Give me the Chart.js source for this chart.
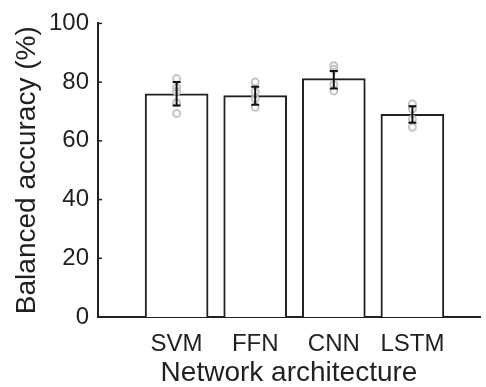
<!DOCTYPE html>
<html>
<head>
<meta charset="utf-8">
<script src="https://cdn.jsdelivr.net/npm/chart.js@4.4.1/dist/chart.umd.min.js"></script>
<style>
  html, body { margin: 0; padding: 0; background: #fff; }
  #wrap { width: 486px; height: 387px; }
</style>
</head>
<body>
<div id="wrap"><canvas id="chart" width="486" height="387"></canvas></div>
<script>
// --- data ---
const categories = ['SVM', 'FFN', 'CNN', 'LSTM'];
const meanAcc = [76.0, 75.4, 81.2, 69.0];
const errLow = [72.0, 72.3, 77.8, 66.2];
const errHigh = [80.0, 78.4, 83.8, 71.8];
const foldsSVM = [81.2, 78.2, 76.8, 73.0, 69.3];
const foldsFFN = [80.0, 76.8, 74.3, 71.4];
const foldsCNN = [85.6, 84.4, 79.3, 77.0];
const foldsLSTM = [72.6, 70.8, 67.4, 64.6];
const yTicks = [0, 20, 40, 60, 80, 100];

const ink = '#231f20';
const font = 'Liberation Sans, Arial, Helvetica, sans-serif';

const foldPoints = [];
[foldsSVM, foldsFFN, foldsCNN, foldsLSTM].forEach((arr, i) => {
    arr.forEach(v => foldPoints.push({ x: i + 1, y: v }));
});

// error bars + inward y ticks, drawn through the chart's scales
const extras = {
    id: 'extras',
    afterDatasetsDraw(chart) {
        const { ctx, scales: { x, y } } = chart;
        ctx.save();
        ctx.strokeStyle = '#111';
        ctx.lineWidth = 2;
        categories.forEach((c, i) => {
            const px = x.getPixelForValue(i + 1);
            const lo = y.getPixelForValue(errLow[i]);
            const hi = y.getPixelForValue(errHigh[i]);
            ctx.beginPath();
            ctx.moveTo(px, lo); ctx.lineTo(px, hi);
            ctx.moveTo(px - 4, lo); ctx.lineTo(px + 4, lo);
            ctx.moveTo(px - 4, hi); ctx.lineTo(px + 4, hi);
            ctx.stroke();
        });
        ctx.strokeStyle = ink;
        ctx.lineWidth = 1.5;
        yTicks.forEach(t => {
            const py = y.getPixelForValue(t);
            ctx.beginPath();
            ctx.moveTo(x.left, py); ctx.lineTo(x.left + 4, py);
            ctx.stroke();
        });
        ctx.restore();
    }
};

new Chart(document.getElementById('chart'), {
    type: 'bar',
    data: {
        datasets: [
            {
                type: 'scatter',
                data: foldPoints,
                pointStyle: 'circle',
                pointRadius: 3.5,
                pointBorderWidth: 2,
                pointBorderColor: '#c4c4c4',
                pointBackgroundColor: 'rgba(255,255,255,0)',
                order: 0
            },
            {
                data: meanAcc.map((v, i) => ({ x: i + 1, y: v })),
                backgroundColor: '#fff',
                borderColor: ink,
                borderWidth: 2,
                borderSkipped: 'bottom',
                barThickness: 63,
                order: 1
            }
        ]
    },
    options: {
        responsive: false,
        animation: false,
        layout: { padding: { top: 20, right: 0, left: 0, bottom: 0 } },
        plugins: { legend: { display: false }, tooltip: { enabled: false } },
        scales: {
            x: {
                type: 'linear',
                offset: false,
                min: 0,
                max: 4.86,
                afterBuildTicks: s => { s.ticks = categories.map((c, i) => ({ value: i + 1 })); },
                afterFit: s => { s.height = 70; },
                ticks: {
                    callback: v => categories[v - 1],
                    color: ink,
                    font: { family: font, size: 24 },
                    padding: 13,
                    maxRotation: 0,
                    autoSkip: false
                },
                grid: { display: false, drawTicks: false },
                border: { color: ink, width: 2 },
                title: {
                    display: true,
                    text: 'Network architecture',
                    color: ink,
                    font: { family: font, size: 28 },
                    padding: { top: 0, bottom: -3 }
                }
            },
            y: {
                min: 0,
                max: 100,
                afterBuildTicks: s => { s.ticks = yTicks.map(v => ({ value: v })); },
                afterFit: s => { s.width = 98; },
                ticks: {
                    color: ink,
                    font: { family: font, size: 24 },
                    padding: 9
                },
                grid: { display: false, drawTicks: false },
                border: { color: ink, width: 2 },
                title: {
                    display: true,
                    text: 'Balanced accuracy (%)',
                    color: ink,
                    font: { family: font, size: 28 },
                    padding: { top: 10, bottom: 0 }
                }
            }
        }
    },
    plugins: [extras]
});
</script>
</body>
</html>
